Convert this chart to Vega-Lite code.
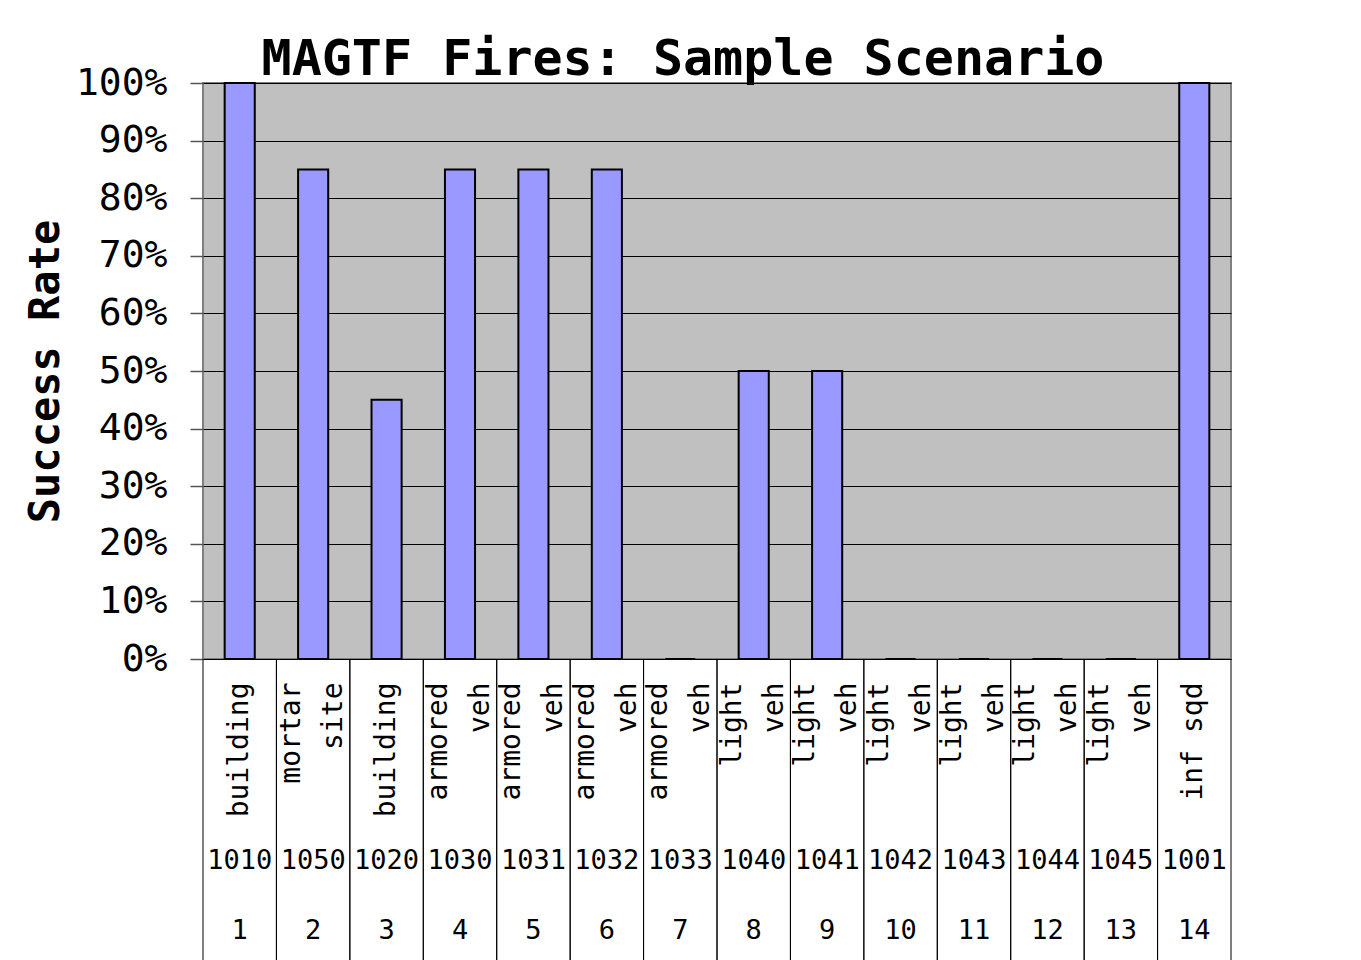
{
  "$schema": "https://vega.github.io/schema/vega-lite/v6.json",
  "background": "white",
  "padding": {"left": 23, "top": 34, "right": 0, "bottom": 0},
  "spacing": 0,
  "bounds": "flush",
  "data": {
    "values": [
      {"idx": 1, "id": "1010", "name": "building", "rate": 1.0},
      {"idx": 2, "id": "1050", "name": "mortar\nsite\u00a0", "rate": 0.85},
      {"idx": 3, "id": "1020", "name": "building", "rate": 0.45},
      {"idx": 4, "id": "1030", "name": "armored\nveh\u00a0\u00a0", "rate": 0.85},
      {"idx": 5, "id": "1031", "name": "armored\nveh\u00a0\u00a0", "rate": 0.85},
      {"idx": 6, "id": "1032", "name": "armored\nveh\u00a0\u00a0", "rate": 0.85},
      {"idx": 7, "id": "1033", "name": "armored\nveh\u00a0\u00a0", "rate": 0},
      {"idx": 8, "id": "1040", "name": "light\nveh\u00a0", "rate": 0.5},
      {"idx": 9, "id": "1041", "name": "light\nveh\u00a0", "rate": 0.5},
      {"idx": 10, "id": "1042", "name": "light\nveh\u00a0", "rate": 0},
      {"idx": 11, "id": "1043", "name": "light\nveh\u00a0", "rate": 0},
      {"idx": 12, "id": "1044", "name": "light\nveh\u00a0", "rate": 0},
      {"idx": 13, "id": "1045", "name": "light\nveh\u00a0", "rate": 0},
      {"idx": 14, "id": "1001", "name": "inf sqd", "rate": 1.0}
    ]
  },
  "config": {
    "font": "DejaVu Sans Mono"
  },
  "vconcat": [
    {
      "width": 1028,
      "height": 576,
      "view": {"fill": "#C0C0C0", "stroke": "#808080", "strokeWidth": 2},
      "title": {
        "text": "MAGTF Fires: Sample Scenario",
        "font": "DejaVu Sans Mono",
        "fontSize": 50,
        "fontWeight": "bold",
        "color": "black",
        "anchor": "middle",
        "frame": "group",
        "dx": -34,
        "offset": -21
      },
      "mark": {"type": "bar", "fill": "#9999FF", "stroke": "black", "strokeWidth": 2, "width": {"band": 0.41}},
      "encoding": {
        "x": {"field": "idx", "type": "ordinal", "scale": {"type": "band", "paddingInner": 0, "paddingOuter": 0}, "axis": null},
        "y": {
          "field": "rate",
          "type": "quantitative",
          "scale": {"domain": [0, 1], "nice": false},
          "axis": {
            "values": [0, 0.1, 0.2, 0.3, 0.4, 0.5, 0.6, 0.7, 0.8, 0.9, 1],
            "format": "%",
            "grid": true,
            "gridColor": "black",
            "gridWidth": 1,
            "gridOpacity": 1,
            "domain": false,
            "tickColor": "#555555",
            "tickSize": 13,
            "tickWidth": 1.5,
            "labelFont": "DejaVu Sans Mono",
            "labelFontSize": 38,
            "labelColor": "black",
            "labelPadding": 23,
            "title": "Success Rate",
            "titleFont": "DejaVu Sans Mono",
            "titleFontSize": 42,
            "titleFontWeight": "bold",
            "titleColor": "black",
            "titlePadding": 8
          }
        }
      }
    },
    {
      "width": 1028,
      "height": 167,
      "view": {"stroke": null},
      "layer": [
        {
          "transform": [{"filter": "indexof(datum.name, '\\n') < 0"}],
          "mark": {"type": "text", "angle": 270, "align": "right", "baseline": "middle", "font": "DejaVu Sans Mono", "fontSize": 28, "dx": 60, "color": "black"},
          "encoding": {
            "x": {"field": "idx", "type": "ordinal", "scale": {"type": "band", "paddingInner": 0, "paddingOuter": 0}, "axis": null},
            "text": {"field": "name", "type": "nominal"}
          }
        },
        {
          "transform": [{"filter": "indexof(datum.name, '\\n') >= 0"}],
          "mark": {"type": "text", "angle": 270, "align": "right", "baseline": "middle", "lineBreak": "\n", "lineHeight": 42, "font": "DejaVu Sans Mono", "fontSize": 28, "dx": 60, "dy": -21, "color": "black"},
          "encoding": {
            "x": {"field": "idx", "type": "ordinal", "scale": {"type": "band", "paddingInner": 0, "paddingOuter": 0}, "axis": null},
            "text": {"field": "name", "type": "nominal"}
          }
        },
        {
          "mark": {"type": "rule", "color": "black", "strokeWidth": 1},
          "encoding": {
            "x": {"field": "idx", "type": "ordinal", "bandPosition": 0, "scale": {"type": "band", "paddingInner": 0, "paddingOuter": 0}, "axis": null}
          }
        },
        {
          "mark": {"type": "rule", "color": "black", "strokeWidth": 1},
          "encoding": {
            "x": {"field": "idx", "type": "ordinal", "bandPosition": 1, "scale": {"type": "band", "paddingInner": 0, "paddingOuter": 0}, "axis": null}
          }
        }
      ]
    },
    {
      "width": 1028,
      "height": 140,
      "view": {"stroke": null},
      "layer": [
        {
          "mark": {"type": "text", "align": "center", "baseline": "middle", "font": "DejaVu Sans Mono", "fontSize": 27, "color": "black"},
          "encoding": {
            "x": {"field": "idx", "type": "ordinal", "scale": {"type": "band", "paddingInner": 0, "paddingOuter": 0}, "axis": null},
            "y": {"datum": "id", "type": "nominal", "scale": {"type": "band", "domain": ["id", "idx"], "paddingInner": 0, "paddingOuter": 0}, "axis": null},
            "text": {"field": "id", "type": "nominal"}
          }
        },
        {
          "mark": {"type": "text", "align": "center", "baseline": "middle", "font": "DejaVu Sans Mono", "fontSize": 27, "color": "black"},
          "encoding": {
            "x": {"field": "idx", "type": "ordinal", "scale": {"type": "band", "paddingInner": 0, "paddingOuter": 0}, "axis": null},
            "y": {"datum": "idx", "type": "nominal", "scale": {"type": "band", "domain": ["id", "idx"], "paddingInner": 0, "paddingOuter": 0}, "axis": null},
            "text": {"field": "idx", "type": "nominal"}
          }
        },
        {
          "mark": {"type": "rule", "color": "black", "strokeWidth": 1},
          "encoding": {
            "x": {"field": "idx", "type": "ordinal", "bandPosition": 0, "scale": {"type": "band", "paddingInner": 0, "paddingOuter": 0}, "axis": null}
          }
        },
        {
          "mark": {"type": "rule", "color": "black", "strokeWidth": 1},
          "encoding": {
            "x": {"field": "idx", "type": "ordinal", "bandPosition": 1, "scale": {"type": "band", "paddingInner": 0, "paddingOuter": 0}, "axis": null}
          }
        }
      ]
    }
  ]
}
